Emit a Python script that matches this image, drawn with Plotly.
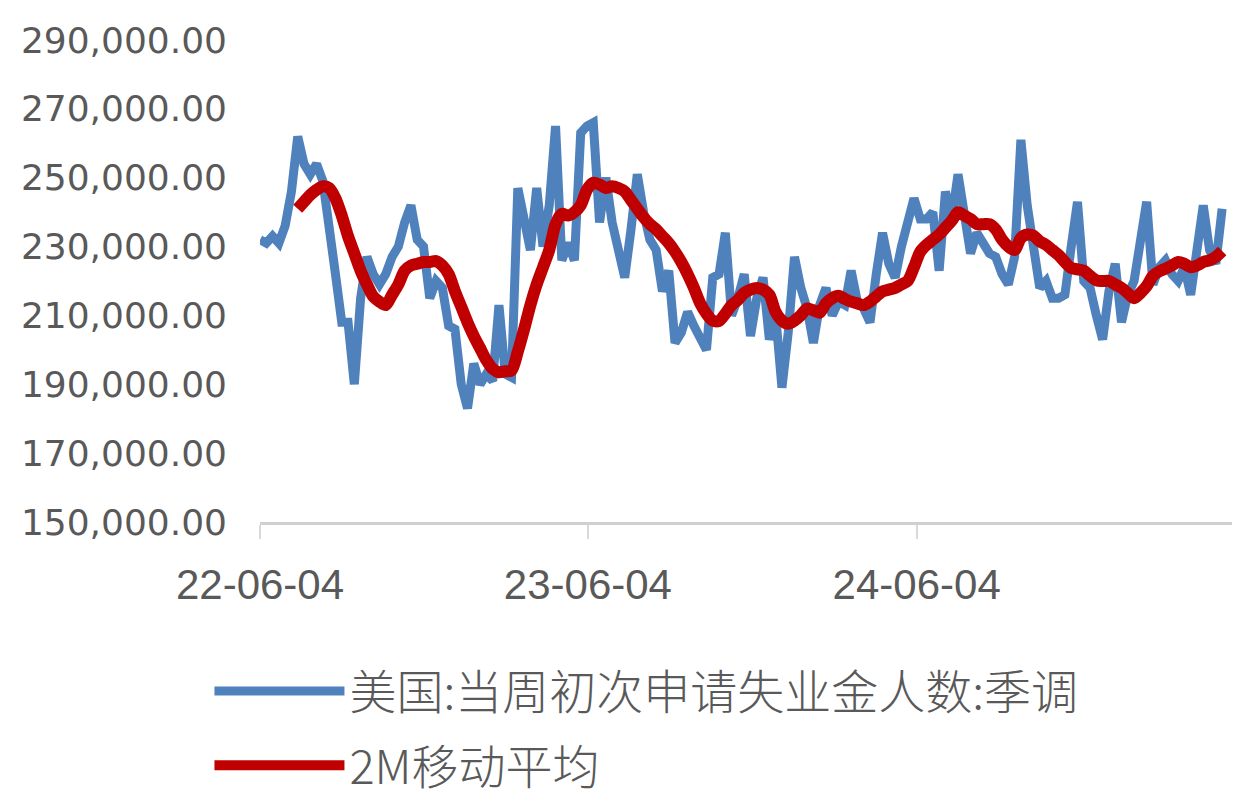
import pandas as pd
import plotly.graph_objects as go

# ---- data ----
start_date = "2022-06-04"
n_weeks = 154
dates = pd.date_range(start_date, periods=n_weeks, freq="7D")

claims = [
    232000, 231000, 233000, 231000, 236000, 246000, 262000, 254000, 251000, 254000,
    249000, 237000, 222000, 208000, 208000, 190000, 215000, 227000, 222000, 219000,
    222000, 227000, 230000, 237000, 242000, 232000, 230000, 215000, 220000, 218000,
    207000, 206000, 190000, 183000, 196000, 190000, 193000, 191000, 213000, 193000,
    192000, 247000, 238000, 229000, 247000, 230000, 242000, 265000, 226000, 231000,
    226000, 263000, 265000, 266000, 237000, 250000, 237000, 230000, 221000, 235000,
    251000, 240000, 232000, 229000, 217000, 223000, 202000, 205000, 211000, 207000,
    203000, 200000, 221000, 222000, 234000, 210000, 215000, 222000, 204000, 215000,
    221000, 203000, 210000, 189000, 205000, 227000, 218000, 212000, 202000, 213000,
    218000, 210000, 214000, 213000, 223000, 214000, 212000, 208000, 222000, 234000,
    225000, 221000, 230000, 238000, 244000, 238000, 238000, 240000, 223000, 246000,
    238000, 251000, 240000, 228000, 234000, 231000, 228000, 227000, 222000, 219000,
    227000, 261000, 242000, 230000, 218000, 220000, 215000, 215000, 216000, 230000,
    243000, 220000, 218000, 210000, 203000, 217000, 225000, 208000, 216000, 220000,
    232000, 243000, 219000, 224000, 226000, 222000, 220000, 224000, 216000, 230000,
    242000, 229000, 225000, 241000,
]

ma_start_week = 6
moving_avg = [
    241000, 243000, 245000, 246500, 247500, 247000, 244000, 239000, 233000, 228000,
    223000, 219000, 215500, 214000, 213000, 216000, 219000, 223000, 224500, 225000,
    225500, 225500, 225800, 224500, 222000, 217000, 212500, 208000, 204000, 200500,
    197000, 194500, 193500, 193800, 194000, 199500, 206000, 213000, 219000, 224000,
    229000, 236500, 239500, 239000, 240000, 242000, 246500, 248500, 248000, 247000,
    247500, 247000, 246000, 243500, 241000, 238500, 236500, 235000, 233000, 231000,
    228500, 225500, 222000, 218000, 213500, 210500, 208500, 208400, 210500, 213000,
    214500, 216500, 217500, 218000, 217500, 216000, 211000, 208500, 207600, 208500,
    210000, 212000, 211500, 210800, 213500, 215000, 215700, 214800, 214000, 213500,
    213000, 214000, 215500, 217000, 217500, 218000, 219000, 220000, 224000, 228500,
    230500, 232000, 233500, 235500, 237500, 240000, 239000, 238000, 236500, 236500,
    236500, 235000, 232000, 230000, 229000, 232500, 233500, 233200, 231500, 230500,
    229000, 227500, 225500, 223800, 223400, 223000, 221500, 220200, 220000, 220000,
    219000, 218000, 216500, 215000, 216500, 218500, 221500, 222800, 223600, 224500,
    225500, 225000, 224000, 224500, 225500, 226000, 227000, 228700,
]

x_tick_vals = ["2022-06-04", "2023-06-04", "2024-06-04"]
x_tick_text = ["22-06-04", "23-06-04", "24-06-04"]
y_tick_vals = [150000, 170000, 190000, 210000, 230000, 250000, 270000, 290000]

name_claims = "美国:当周初次申请失业金人数:季调"
name_ma = "2M移动平均"

# ---- figure ----
fig = go.Figure()
fig.add_trace(go.Scatter(
    x=dates, y=claims, mode="lines", name=name_claims, legendgroup="a",
    line=dict(color="#4F81BD", width=9),
))
fig.add_trace(go.Scatter(
    x=dates[ma_start_week:], y=moving_avg, mode="lines", name=name_ma, legendgroup="b",
    line=dict(color="#C00000", width=12, shape="spline", smoothing=0.8),
))

fig.update_layout(
    width=1240, height=810,
    margin=dict(l=252, r=16, t=28, b=296),
    paper_bgcolor="white", plot_bgcolor="white",
    showlegend=True,
    legend=dict(
        orientation="v",
        x=-0.052, xanchor="left",
        y=-0.274, yanchor="top",
        font=dict(family="Noto Sans CJK SC", size=47, color="#595959", weight=300),
        itemwidth=130,
        bgcolor="rgba(0,0,0,0)",
        tracegroupgap=10,
    ),
)

fig.update_xaxes(
    type="date",
    range=["2022-06-04", "2025-05-21"],
    tickvals=x_tick_vals, ticktext=x_tick_text,
    showgrid=False, zeroline=False,
    showline=True, linecolor="#D0D0D0", linewidth=3,
    ticks="outside", ticklen=14, tickwidth=2, tickcolor="#D9D9D9",
    ticklabelstandoff=10,
    tickfont=dict(family="Liberation Sans", size=42, color="#595959"),
)
fig.update_yaxes(
    range=[150000, 290000],
    tickvals=y_tick_vals,
    tickformat=",.2f",
    showgrid=False, zeroline=False, showline=False,
    ticks="", ticklabelstandoff=32,
    tickfont=dict(family="DejaVu Sans", size=36, color="#595959"),
)

fig.write_html("out.html")
